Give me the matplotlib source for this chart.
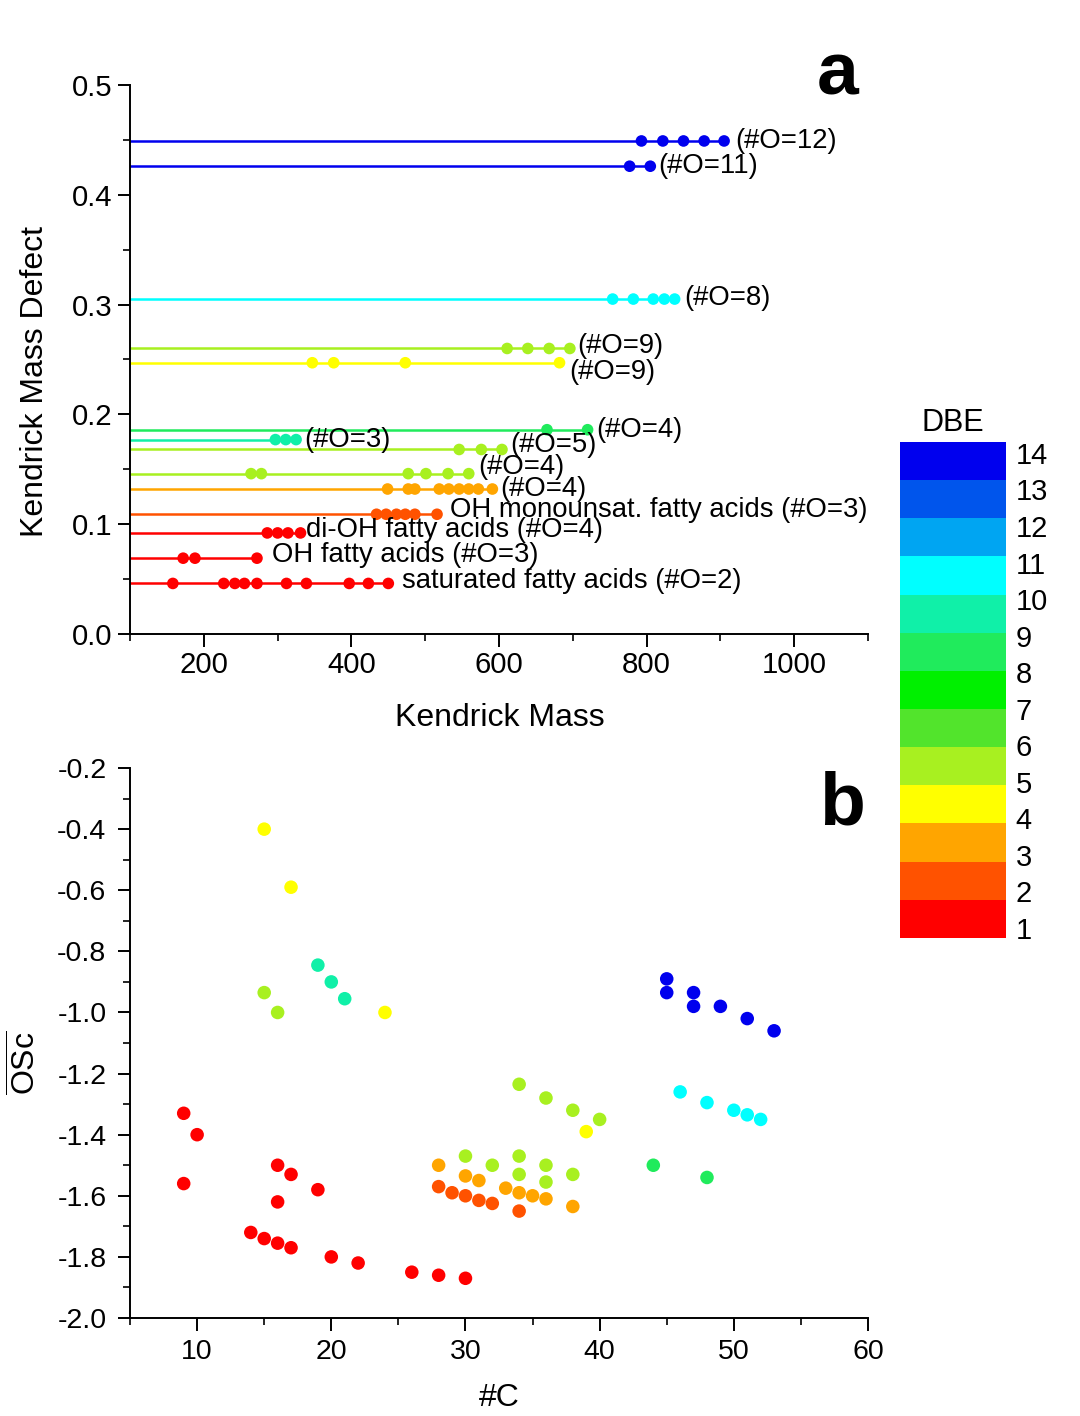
import numpy as np
import matplotlib
matplotlib.use("Agg")
import matplotlib.pyplot as plt
from matplotlib.colors import ListedColormap, BoundaryNorm
from matplotlib.cm import ScalarMappable
from matplotlib.ticker import MultipleLocator

plt.rcParams["font.family"] = ["Liberation Sans", "DejaVu Sans"]
plt.rcParams["mathtext.fontset"] = "custom"
plt.rcParams["mathtext.rm"] = "Liberation Sans"
plt.rcParams["axes.unicode_minus"] = False

# --------------------------------------------------
# DBE colour scale (bands 1-2 ... 13-14)
# --------------------------------------------------

dbe_colors = [
    "#FF0000", "#FF5200", "#FFA500", "#FFFF00", "#A8F020",
    "#52E42C", "#00F000", "#20EB5C", "#10F0A8", "#00FFFF",
    "#00A5F2", "#0055EC", "#0000EE",
]
dbe_bounds = list(range(1, 15))

# --------------------------------------------------
# Panel a: Kendrick mass defect series
# --------------------------------------------------

series_labels = [
    "(#O=12)", "(#O=11)", "(#O=8)", "(#O=9)", "(#O=9)",
    "(#O=4)", "(#O=3)", "(#O=5)", "(#O=4)", "(#O=4)",
    "OH monounsat. fatty acids (#O=3)", "di-OH fatty acids (#O=4)",
    "OH fatty acids (#O=3)", "saturated fatty acids (#O=2)",
]
series_kmd = [
    0.449, 0.426, 0.305, 0.260, 0.247,
    0.186, 0.177, 0.168, 0.146, 0.132,
    0.109, 0.092, 0.069, 0.046,
]
series_dbe = [13, 13, 10, 5, 4, 8, 9, 5, 5, 3, 2, 1, 1, 1]
series_km = [
    [793, 822, 850, 878, 905],
    [777, 805],
    [754, 782, 809, 824, 838],
    [611, 639, 668, 696],
    [347, 376, 473, 682],
    [665, 720],
    [297, 311, 325],
    [546, 576, 604],
    [264, 278, 477, 501, 531, 559],
    [449, 477, 486, 519, 532, 546, 559, 572, 591],
    [434, 447, 461, 473, 486, 516],
    [286, 300, 314, 331],
    [172, 188, 272],
    [158, 227, 242, 255, 272, 312, 339, 397, 423, 450],
]

# --------------------------------------------------
# Panel b: carbon number vs. average carbon oxidation state
# --------------------------------------------------

c_num = [
    15, 17, 24, 39,
    15, 16, 34, 36, 38, 40, 30, 32, 34, 34, 36, 36, 38,
    19, 20, 21,
    9, 10, 9, 16, 17, 19, 16, 14, 15, 16, 17, 20, 22, 26, 28, 30,
    28, 30, 31, 33, 34, 35, 36, 38,
    28, 29, 30, 31, 32, 34,
    46, 48, 50, 51, 52,
    44, 48,
    45, 45, 47, 47, 49, 51, 53,
]
osc = [
    -0.40, -0.59, -1.00, -1.39,
    -0.935, -1.00, -1.235, -1.28, -1.32, -1.35, -1.47, -1.50, -1.47,
    -1.53, -1.50, -1.555, -1.53,
    -0.845, -0.90, -0.955,
    -1.33, -1.40, -1.56, -1.50, -1.53, -1.58, -1.62, -1.72, -1.74,
    -1.755, -1.77, -1.80, -1.82, -1.85, -1.86, -1.87,
    -1.50, -1.535, -1.55, -1.575, -1.59, -1.60, -1.61, -1.635,
    -1.57, -1.59, -1.60, -1.615, -1.625, -1.65,
    -1.26, -1.295, -1.32, -1.335, -1.35,
    -1.50, -1.54,
    -0.89, -0.935, -0.935, -0.98, -0.98, -1.02, -1.06,
]
dbe_b = (
    [4] * 4 + [5] * 13 + [9] * 3 + [1] * 16 + [3] * 8 + [2] * 6
    + [10] * 5 + [8] * 2 + [13] * 7
)

# label offsets (points) from the last dot of each series
label_dx = [8, 6, 7, 5, 7, 6, 6, 6, 7, 6, 9, 4, 11, 10]
label_dy = [0, 0, 1, 2, -6.5, 0, 0, 3, 5, 0, 3, 2, 2, 1.5]

cmap = ListedColormap(dbe_colors)
norm = BoundaryNorm(dbe_bounds, cmap.N)

fig = plt.figure(figsize=(10.8, 14.16), dpi=100)
ax_a = fig.add_axes([0.1204, 0.5523, 0.6833, 0.3877])
ax_b = fig.add_axes([0.1204, 0.0692, 0.6833, 0.3884])
cax = fig.add_axes([0.8333, 0.3376, 0.0981, 0.3503])


def style_axis(ax):
    for side in ["top", "right"]:
        ax.spines[side].set_visible(False)
    for side in ["left", "bottom"]:
        ax.spines[side].set_linewidth(1.4)
    ax.tick_params(which="major", direction="out", length=9, width=1.4)
    ax.tick_params(which="minor", direction="out", length=5, width=1.2)


# ---- panel a
for km, kmd, dbe, lab, dx, dy in zip(series_km, series_kmd, series_dbe,
                                     series_labels, label_dx, label_dy):
    col = cmap(norm(dbe))
    ax_a.plot([100, km[-1]], [kmd, kmd], color=col, lw=1.8, zorder=2)
    ax_a.scatter(km, [kmd] * len(km), color=col, s=70, zorder=3,
                 edgecolors="none")
    ax_a.annotate(lab, (km[-1], kmd), xytext=(dx, dy),
                  textcoords="offset points", ha="left", va="center",
                  fontsize=19.8, zorder=4)

ax_a.set_xlim(100, 1100)
ax_a.set_ylim(0, 0.5)
ax_a.xaxis.set_major_locator(MultipleLocator(200))
ax_a.xaxis.set_minor_locator(MultipleLocator(100))
ax_a.yaxis.set_major_locator(MultipleLocator(0.1))
ax_a.yaxis.set_minor_locator(MultipleLocator(0.05))
ax_a.tick_params(labelsize=21.2)
style_axis(ax_a)
ax_a.set_xlabel("Kendrick Mass", fontsize=23, va="top")
ax_a.xaxis.set_label_coords(0.501, -0.126)
ax_a.set_ylabel("Kendrick Mass Defect", fontsize=23)
ax_a.yaxis.set_label_coords(-0.108, 0.46)

# ---- panel b
ax_b.scatter(c_num, osc, c=dbe_b, cmap=cmap, norm=norm, s=95,
             edgecolors="none", zorder=3)
ax_b.set_xlim(5, 60)
ax_b.set_ylim(-2.0, -0.2)
ax_b.xaxis.set_major_locator(MultipleLocator(10))
ax_b.xaxis.set_minor_locator(MultipleLocator(5))
ax_b.yaxis.set_major_locator(MultipleLocator(0.2))
ax_b.yaxis.set_minor_locator(MultipleLocator(0.1))
ax_b.yaxis.set_major_formatter(plt.FuncFormatter(lambda v, p: f"{v:.1f}"))
ax_b.tick_params(labelsize=20.5)
style_axis(ax_b)
ax_b.tick_params(axis="y", which="major", pad=8)
ax_b.tick_params(axis="x", which="major", pad=6)
ax_b.set_xlabel("#C", fontsize=23, va="top")
ax_b.xaxis.set_label_coords(0.501, -0.118)
ax_b.set_ylabel(r"$\overline{\mathrm{OSc}}$", fontsize=23)
ax_b.yaxis.set_label_coords(-0.118, 0.464)

# ---- colour bar
cb = fig.colorbar(ScalarMappable(norm=norm, cmap=cmap), cax=cax)
cb.outline.set_visible(False)
cax.minorticks_off()
tick_pos = [1.27 + (k - 1) * 0.957 for k in dbe_bounds]
cb.set_ticks(tick_pos)
cb.set_ticklabels([str(k) for k in dbe_bounds])
cax.tick_params(which="both", length=0, labelsize=21, pad=7)
cax.set_title("DBE", fontsize=22, pad=8)

fig.text(0.776, 0.947, "a", fontsize=54, fontweight="bold",
         ha="center", va="center")
fig.text(0.780, 0.4315, "b", fontsize=54, fontweight="bold",
         ha="center", va="center")

fig.savefig("out.png", dpi=100)
